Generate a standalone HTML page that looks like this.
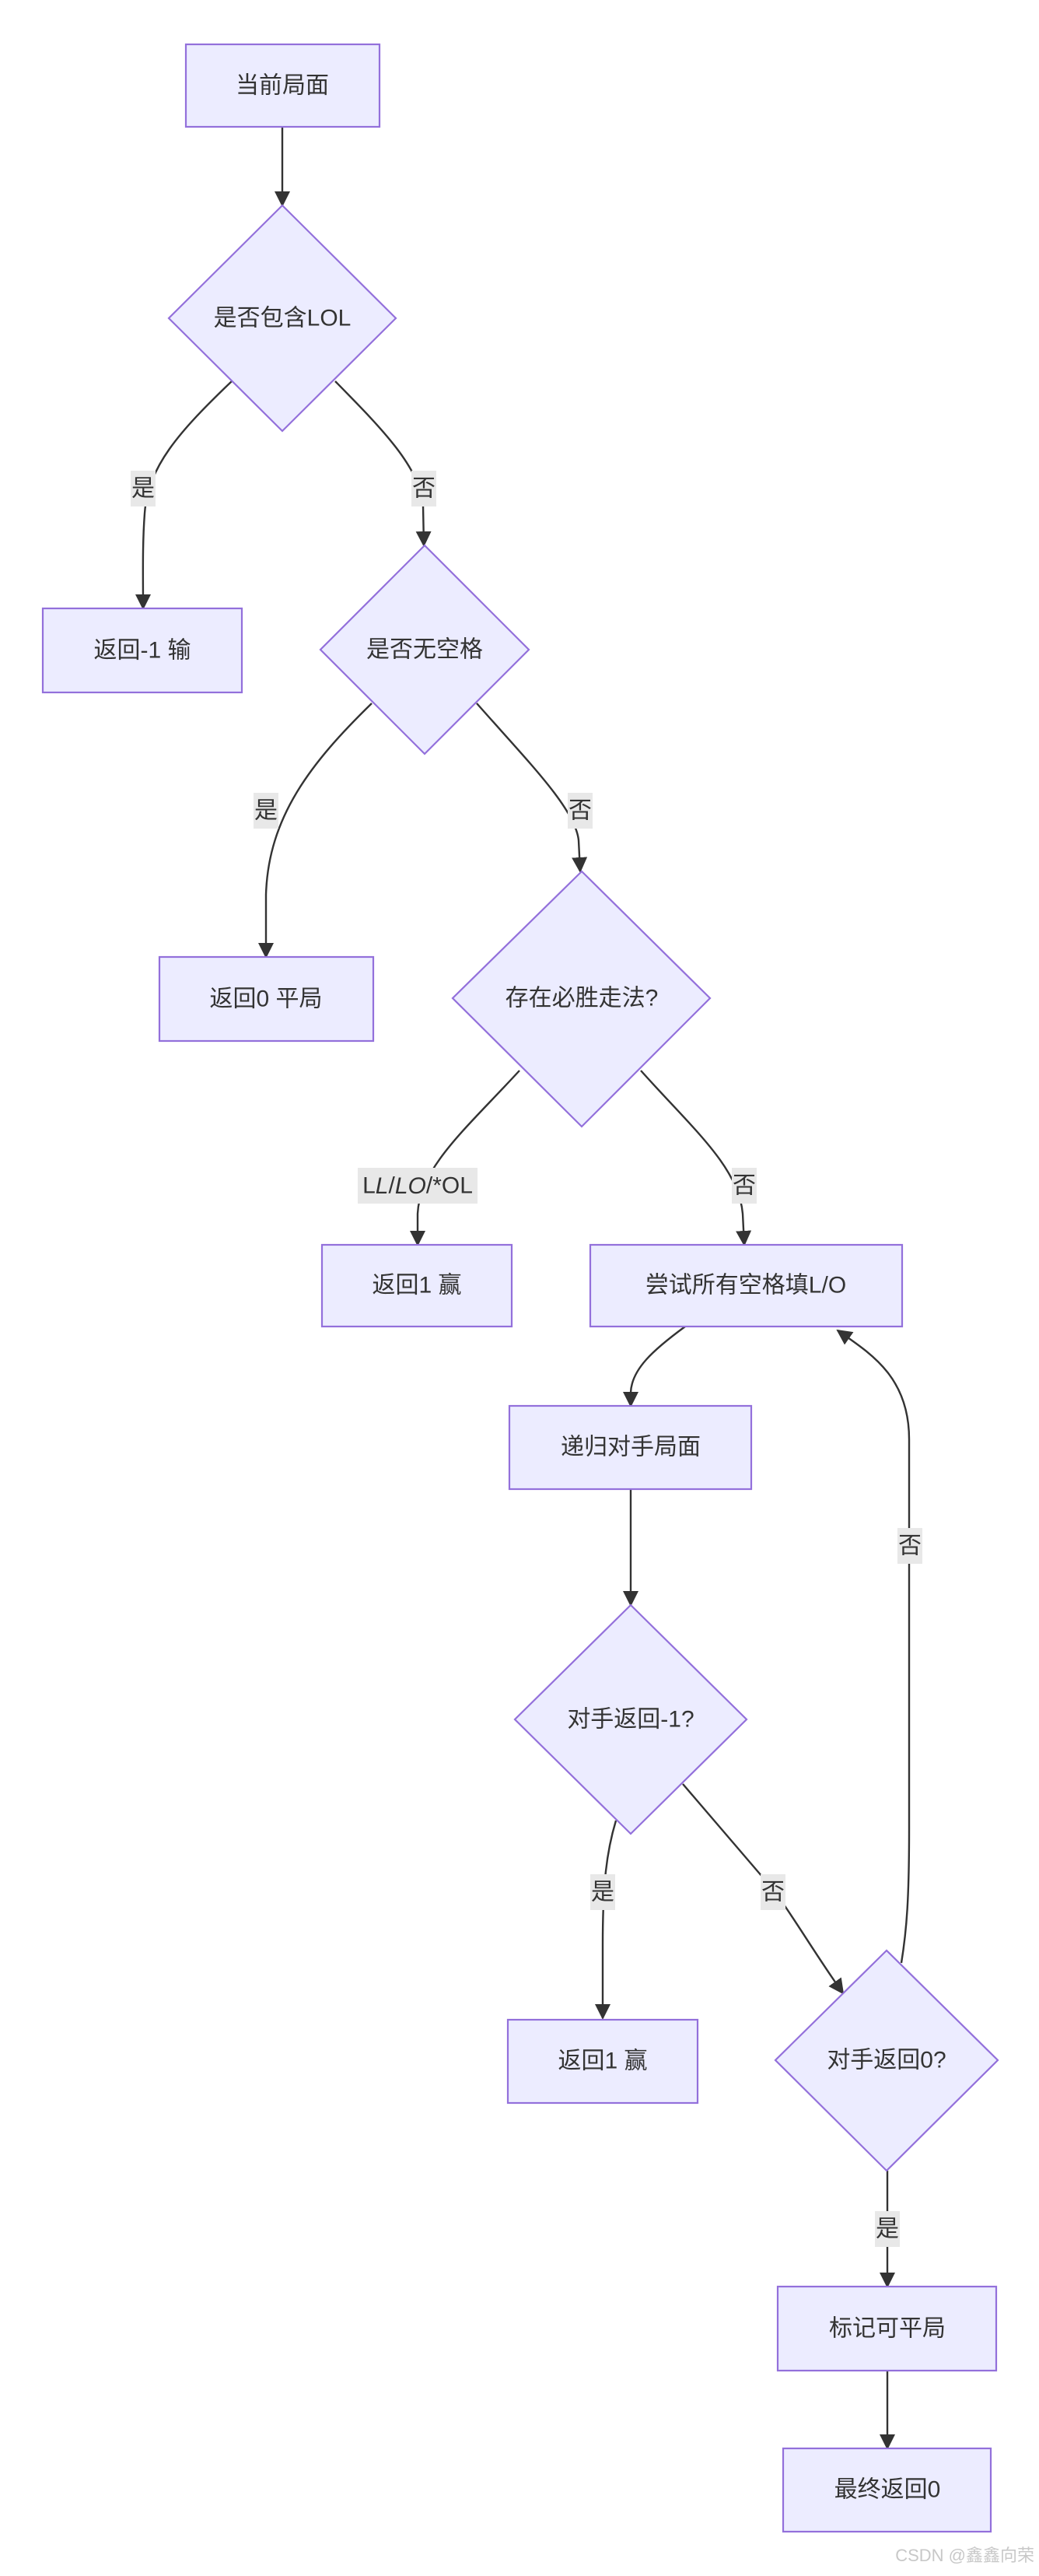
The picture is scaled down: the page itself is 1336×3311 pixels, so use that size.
<!DOCTYPE html>
<html><head><meta charset="utf-8"><style>
html,body{margin:0;padding:0;background:#fff;}
svg{display:block;}
text{font-family:"Liberation Sans","Noto Sans CJK SC",sans-serif;font-size:30px;fill:#333;}
.n{fill:#ECECFF;stroke:#9370DB;stroke-width:2.2;}
.e{fill:none;stroke:#333;stroke-width:2.4;}
.lb{fill:#e8e8e8;}
</style></head><body>
<svg width="1336" height="3311" viewBox="0 0 1336 3311" xmlns="http://www.w3.org/2000/svg">
<defs><marker id="a" viewBox="0 0 10 10" refX="9" refY="5" markerWidth="8" markerHeight="8" markerUnits="userSpaceOnUse" orient="auto"><path d="M0,0L10,5L0,10z" fill="#333"/></marker>
<marker id="b" viewBox="0 0 10 10" refX="9" refY="5" markerWidth="20" markerHeight="20" markerUnits="userSpaceOnUse" orient="auto"><path d="M0,0L10,5L0,10z" fill="#333"/></marker></defs>

<!-- edges -->
<g class="e" marker-end="url(#b)">
<path class="e" d="M363,163 L363,264"/>
<path class="e" d="M298,490 C230,555 190,600 186,660 C183,700 184,740 184,782"/>
<path class="e" d="M431,490 C490,550 540,600 544,650 L545,701"/>
<path class="e" d="M478,904 C400,980 345,1050 342,1150 L342,1230"/>
<path class="e" d="M613,904 C680,980 740,1040 744,1080 L746,1120"/>
<path class="e" d="M668,1376 C600,1450 540,1500 537,1560 L537,1600"/>
<path class="e" d="M824,1376 C890,1450 950,1500 955,1560 L957,1600"/>
<path class="e" d="M881,1705 C840,1735 812,1760 811,1790 L811,1807"/>
<path class="e" d="M811,1914 L811,2063"/>
<path class="e" d="M792,2340 C780,2380 775,2420 775,2500 L775,2594"/>
<path class="e" d="M878,2293 L980,2412 C1010,2445 1040,2500 1084,2562"/>
<path class="e" d="M1159,2523 C1166,2480 1169,2440 1169,2350 L1169,1850 C1169,1770 1120,1740 1077,1710"/>
<path class="e" d="M1141,2790 L1141,2939"/>
<path class="e" d="M1141,3047 L1141,3147"/>
</g>

<!-- nodes -->
<rect class="n" x="239" y="57" width="249" height="106"/>
<text x="363" y="110" text-anchor="middle" dominant-baseline="central">当前局面</text>
<polygon class="n" points="363,264 509,409 363,554 217,409"/>
<text x="363" y="409" text-anchor="middle" dominant-baseline="central">是否包含LOL</text>
<rect class="n" x="55" y="782" width="256" height="108"/>
<text x="183" y="836" text-anchor="middle" dominant-baseline="central">返回-1 输</text>
<polygon class="n" points="546,701 680,835 546,969 412,835"/>
<text x="546" y="835" text-anchor="middle" dominant-baseline="central">是否无空格</text>
<rect class="n" x="205" y="1230" width="275" height="108"/>
<text x="342" y="1284" text-anchor="middle" dominant-baseline="central">返回0 平局</text>
<polygon class="n" points="748,1120 913,1283 748,1448 582,1283"/>
<text x="748" y="1283" text-anchor="middle" dominant-baseline="central">存在必胜走法?</text>
<rect class="n" x="414" y="1600" width="244" height="105"/>
<text x="536" y="1652" text-anchor="middle" dominant-baseline="central">返回1 赢</text>
<rect class="n" x="759" y="1600" width="401" height="105"/>
<text x="959" y="1652" text-anchor="middle" dominant-baseline="central">尝试所有空格填L/O</text>
<rect class="n" x="655" y="1807" width="311" height="107"/>
<text x="811" y="1860" text-anchor="middle" dominant-baseline="central">递归对手局面</text>
<polygon class="n" points="811,2063 960,2210 811,2357 662,2210"/>
<text x="811" y="2210" text-anchor="middle" dominant-baseline="central">对手返回-1?</text>
<rect class="n" x="653" y="2596" width="244" height="107"/>
<text x="775" y="2649" text-anchor="middle" dominant-baseline="central">返回1 赢</text>
<polygon class="n" points="1140,2507 1283,2648 1140,2790 997,2648"/>
<text x="1140" y="2648" text-anchor="middle" dominant-baseline="central">对手返回0?</text>
<rect class="n" x="1000" y="2939" width="281" height="108"/>
<text x="1141" y="2993" text-anchor="middle" dominant-baseline="central">标记可平局</text>
<rect class="n" x="1007" y="3147" width="267" height="107"/>
<text x="1141" y="3200" text-anchor="middle" dominant-baseline="central">最终返回0</text>

<!-- edge labels -->
<rect class="lb" x="168" y="605" width="32" height="46"/><text x="184" y="628" text-anchor="middle" dominant-baseline="central">是</text>
<rect class="lb" x="529" y="605" width="32" height="46"/><text x="545" y="628" text-anchor="middle" dominant-baseline="central">否</text>
<rect class="lb" x="326" y="1019" width="32" height="46"/><text x="342" y="1042" text-anchor="middle" dominant-baseline="central">是</text>
<rect class="lb" x="730" y="1019" width="32" height="46"/><text x="746" y="1042" text-anchor="middle" dominant-baseline="central">否</text>
<rect class="lb" x="460" y="1501" width="154" height="46"/><text x="537" y="1524" text-anchor="middle" dominant-baseline="central">L<tspan font-style="italic">L</tspan>/<tspan font-style="italic">LO</tspan>/*OL</text>
<rect class="lb" x="941" y="1501" width="32" height="46"/><text x="957" y="1524" text-anchor="middle" dominant-baseline="central">否</text>
<rect class="lb" x="1154" y="1964" width="32" height="46"/><text x="1170" y="1987" text-anchor="middle" dominant-baseline="central">否</text>
<rect class="lb" x="759" y="2409" width="32" height="46"/><text x="775" y="2432" text-anchor="middle" dominant-baseline="central">是</text>
<rect class="lb" x="978" y="2409" width="32" height="46"/><text x="994" y="2432" text-anchor="middle" dominant-baseline="central">否</text>
<rect class="lb" x="1125" y="2842" width="32" height="46"/><text x="1141" y="2865" text-anchor="middle" dominant-baseline="central">是</text>

<text x="1330" y="3292" text-anchor="end" style="font-size:22px;fill:#c8c8c8">CSDN @鑫鑫向荣</text>
</svg>
</body></html>
